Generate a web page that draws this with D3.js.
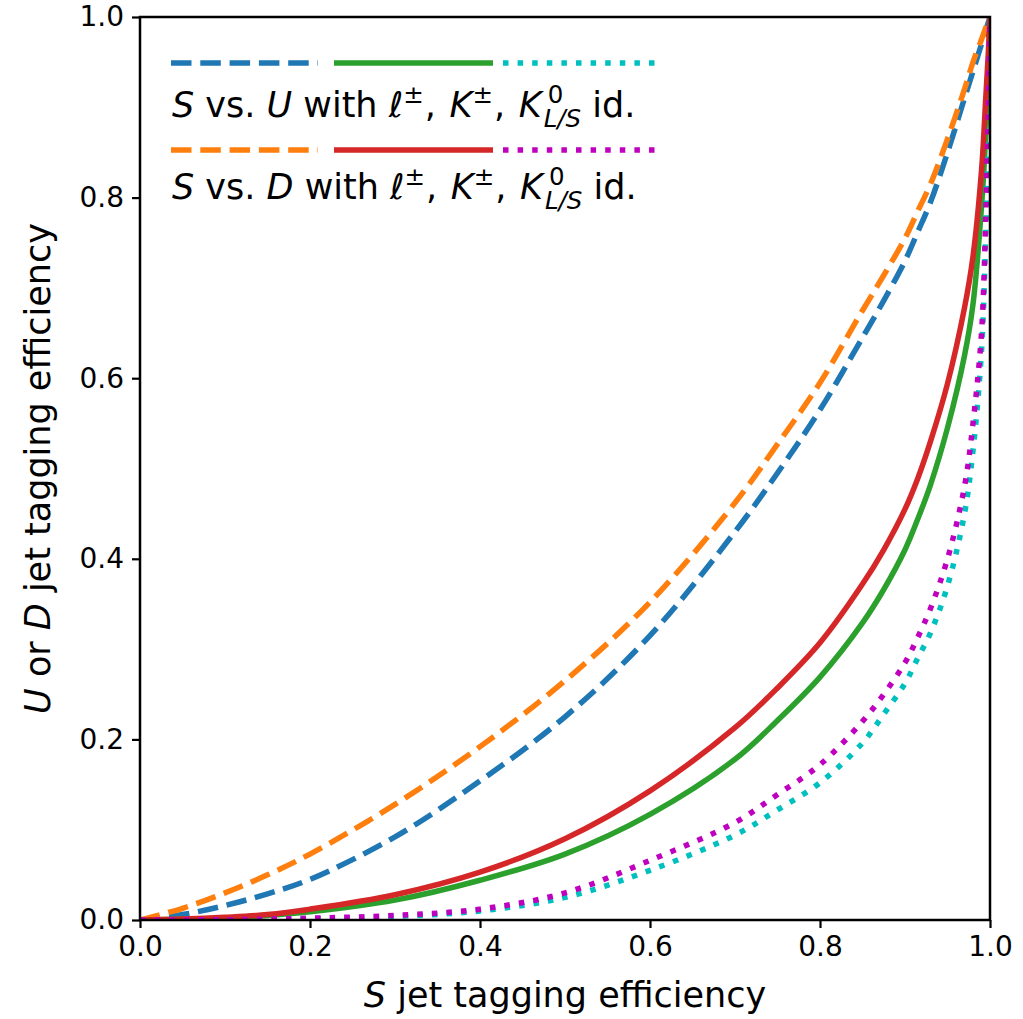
<!DOCTYPE html>
<html>
<head>
<meta charset="utf-8">
<script src="https://cdn.jsdelivr.net/npm/d3@7"></script>
<style>
  body { margin: 0; background: white; }
  text { font-family: "DejaVu Sans", sans-serif; }
</style>
</head>
<body>
<div id="container"></div>
<script>
/* CONSTANTS AND GLOBALS */
const width = 1023,
    height = 1019,
    margin = { top: 17, right: 33, bottom: 99, left: 140 }

// DATA
const sEff = [0, 0.05, 0.1, 0.15, 0.2, 0.3, 0.4, 0.5, 0.6, 0.7, 0.75, 0.8, 0.85, 0.875, 0.9, 0.915, 0.93, 0.95, 0.97, 0.98, 0.99, 0.995, 0.998, 1]
const uDashed = [0, 0.006, 0.016, 0.029, 0.045, 0.092, 0.154, 0.225, 0.315, 0.43, 0.495, 0.565, 0.645, 0.686, 0.73, 0.762, 0.795, 0.85, 0.91, 0.94, 0.97, 0.985, 0.994, 1]
const uSolid = [0, 0.0008, 0.002, 0.005, 0.009, 0.022, 0.044, 0.073, 0.117, 0.178, 0.221, 0.269, 0.329, 0.366, 0.41, 0.444, 0.482, 0.545, 0.625, 0.682, 0.79, 0.87, 0.94, 1]
const uDotted = [0, 0.0001, 0.0002, 0.0008, 0.0015, 0.004, 0.01, 0.025, 0.055, 0.094, 0.122, 0.152, 0.196, 0.228, 0.262, 0.29, 0.318, 0.37, 0.45, 0.52, 0.63, 0.76, 0.9, 1]
const dDashed = [0, 0.013, 0.03, 0.05, 0.073, 0.128, 0.192, 0.265, 0.352, 0.462, 0.527, 0.595, 0.675, 0.714, 0.755, 0.785, 0.815, 0.865, 0.92, 0.95, 0.975, 0.988, 0.995, 1]
const dSolid = [0, 0.001, 0.003, 0.006, 0.012, 0.028, 0.053, 0.09, 0.143, 0.213, 0.257, 0.307, 0.372, 0.41, 0.455, 0.489, 0.53, 0.594, 0.678, 0.735, 0.83, 0.91, 0.96, 1]
const dDotted = [0, 0.0001, 0.0003, 0.001, 0.002, 0.005, 0.012, 0.03, 0.066, 0.108, 0.139, 0.172, 0.22, 0.25, 0.285, 0.313, 0.345, 0.4, 0.48, 0.55, 0.65, 0.78, 0.9, 1]
const xTicks = [0, 0.2, 0.4, 0.6, 0.8, 1.0]
const yTicks = [0, 0.2, 0.4, 0.6, 0.8, 1.0]

const lw = 5.5
const dashStyles = { dashed: "20.5,8.8", solid: null, dotted: "5.5,9.1" }

const series = [
    { name: "uDashed", values: uDashed, color: "#1f77b4", style: "dashed" },
    { name: "uSolid", values: uSolid, color: "#2ca02c", style: "solid" },
    { name: "uDotted", values: uDotted, color: "#00bfbf", style: "dotted" },
    { name: "dDashed", values: dDashed, color: "#ff7f0e", style: "dashed" },
    { name: "dSolid", values: dSolid, color: "#d62728", style: "solid" },
    { name: "dDotted", values: dDotted, color: "#bf00bf", style: "dotted" }
]

//SCALE
const xScale = d3.scaleLinear()
    .domain([0, 1])
    .range([margin.left, width - margin.right])

const yScale = d3.scaleLinear()
    .domain([0, 1])
    .range([height - margin.bottom, margin.top])

//SVG
const svg = d3.select("#container")
    .append("svg")
    .attr("width", width)
    .attr("height", height)
    .style("background-color", "white")

svg.append("clipPath")
    .attr("id", "plot-clip")
    .append("rect")
    .attr("x", xScale(0))
    .attr("y", yScale(1))
    .attr("width", xScale(1) - xScale(0))
    .attr("height", yScale(0) - yScale(1))

const line = d3.line()
    .x(d => xScale(d[0]))
    .y(d => yScale(d[1]))
    .curve(d3.curveCatmullRom.alpha(0.5))

svg.append("g")
    .attr("clip-path", "url(#plot-clip)")
    .selectAll("path")
    .data(series)
    .join("path")
    .attr("d", d => line(sEff.map((s, i) => [s, d.values[i]])))
    .attr("stroke", d => d.color)
    .attr("stroke-width", lw)
    .attr("stroke-dasharray", d => dashStyles[d.style])
    .attr("fill", "none")

// FRAME
svg.append("rect")
    .attr("x", xScale(0))
    .attr("y", yScale(1))
    .attr("width", xScale(1) - xScale(0))
    .attr("height", yScale(0) - yScale(1))
    .attr("fill", "none")
    .attr("stroke", "black")
    .attr("stroke-width", 2.5)

// AXES
const xAxis = d3.axisBottom(xScale).tickValues(xTicks).tickFormat(d3.format(".1f")).tickSizeOuter(0).tickSize(8).tickPadding(8)
const yAxis = d3.axisLeft(yScale).tickValues(yTicks).tickFormat(d3.format(".1f")).tickSizeOuter(0).tickSize(8).tickPadding(8)

svg.append("g")
    .attr("class", "axis")
    .attr("transform", "translate(0," + yScale(0) + ")")
    .call(xAxis)
svg.append("g")
    .attr("class", "axis")
    .attr("transform", "translate(" + xScale(0) + ",0)")
    .call(yAxis)

svg.selectAll(".axis .domain").remove()
svg.selectAll(".axis .tick line").attr("stroke", "black").attr("stroke-width", 2.2)
svg.selectAll(".axis .tick text")
    .attr("fill", "black")
    .style("font-size", "28px")
    .style("font-family", "DejaVu Sans")

// LABELS
const xLabel = svg.append("text")
    .attr("x", (xScale(0) + xScale(1)) / 2)
    .attr("y", 1007)
    .attr("text-anchor", "middle")
    .style("font-size", "35px")
xLabel.append("tspan").style("font-style", "italic").text("S")
xLabel.append("tspan").text(" jet tagging efficiency")

const yLabel = svg.append("text")
    .attr("transform", "translate(50," + (yScale(0) + yScale(1)) / 2 + ") rotate(-90)")
    .attr("text-anchor", "middle")
    .style("font-size", "35px")
yLabel.append("tspan").style("font-style", "italic").text("U")
yLabel.append("tspan").text(" or ")
yLabel.append("tspan").style("font-style", "italic").text("D")
yLabel.append("tspan").text(" jet tagging efficiency")

// LEGEND
const legendRows = [
    { keys: ["uDashed", "uSolid", "uDotted"], jet: "U", lineY: 63, textY: 117 },
    { keys: ["dDashed", "dSolid", "dDotted"], jet: "D", lineY: 150, textY: 199 }
]
const legendSegs = [[171, 318], [334, 493], [503, 656]]

legendRows.forEach(row => {
    row.keys.forEach((k, i) => {
        const s = series.find(d => d.name === k)
        svg.append("line")
            .attr("x1", legendSegs[i][0])
            .attr("x2", legendSegs[i][1])
            .attr("y1", row.lineY)
            .attr("y2", row.lineY)
            .attr("stroke", s.color)
            .attr("stroke-width", lw)
            .attr("stroke-dasharray", dashStyles[s.style])
    })

    const t = svg.append("text")
        .attr("x", 172)
        .attr("y", row.textY)
        .style("font-size", "35px")
    const small = "24.5px"
    t.append("tspan").style("font-style", "italic").text("S")
    t.append("tspan").text(" vs. ")
    t.append("tspan").style("font-style", "italic").text(row.jet)
    t.append("tspan").text(" with ")
    t.append("tspan").style("font-style", "italic").text("\u2113")
    t.append("tspan").attr("dy", -14).style("font-size", small).text("\u00b1")
    t.append("tspan").attr("dy", 14).attr("dx", 1).text(", ")
    t.append("tspan").attr("dx", 2.5).style("font-style", "italic").text("K")
    t.append("tspan").attr("dy", -14).style("font-size", small).text("\u00b1")
    t.append("tspan").attr("dy", 14).attr("dx", 1).text(", ")
    t.append("tspan").attr("dx", 2.5).style("font-style", "italic").text("K")
    t.append("tspan").attr("dy", -14).attr("dx", 6).style("font-size", small).text("0")
    t.append("tspan").attr("dy", 24).attr("dx", -19.6).style("font-size", small).style("font-style", "italic").text("L/S")
    t.append("tspan").attr("dy", -10).text(" id.")
})
</script>
</body>
</html>
